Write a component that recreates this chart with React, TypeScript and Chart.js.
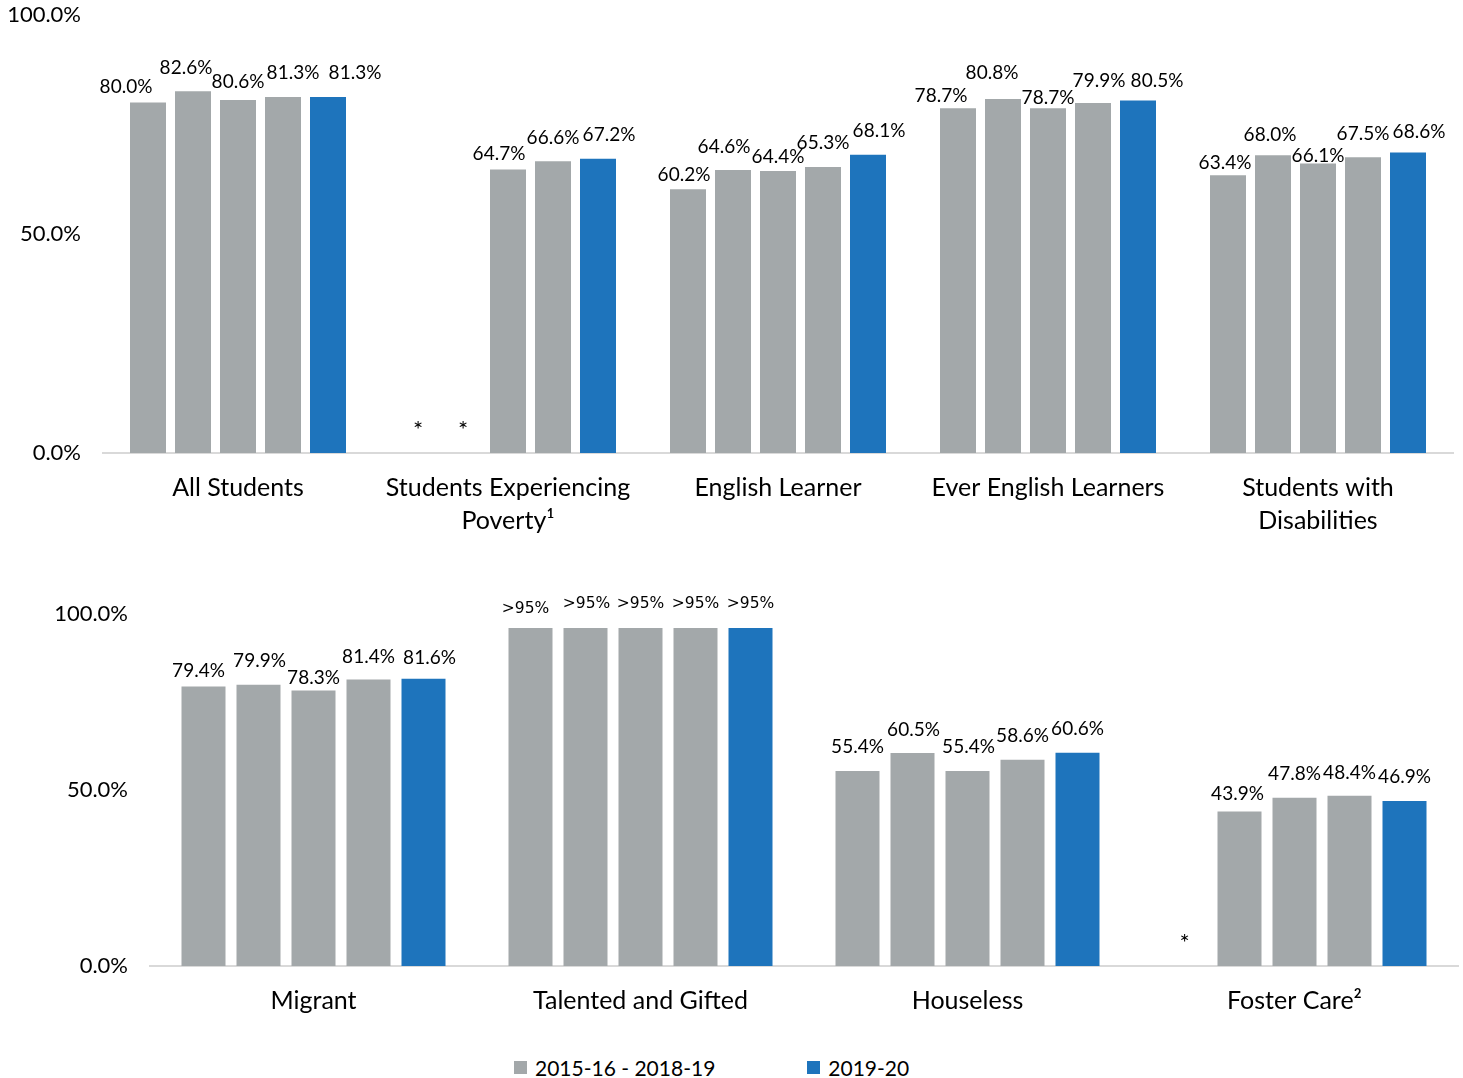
import React, { useEffect, useRef } from "react";
import { Chart, registerables } from "chart.js";

Chart.register(...registerables);

// School years shown as bars inside every student group
const YEARS = ["2015-16", "2016-17", "2017-18", "2018-19", "2019-20"];
const GRAY = "#A3A8AA";
const BLUE = "#1E74BC";

// Upper panel
const TOP_CATEGORIES = [
  "All Students",
  ["Students Experiencing", "Poverty¹"],
  "English Learner",
  "Ever English Learners",
  ["Students with", "Disabilities"],
];
const allStudents = [80.0, 82.6, 80.6, 81.3, 81.3];
const poverty = [null, null, 64.7, 66.6, 67.2];
const englishLearner = [60.2, 64.6, 64.4, 65.3, 68.1];
const everEnglishLearners = [78.7, 80.8, 78.7, 79.9, 80.5];
const disabilities = [63.4, 68.0, 66.1, 67.5, 68.6];

// Lower panel
const BOTTOM_CATEGORIES = ["Migrant", "Talented and Gifted", "Houseless", "Foster Care²"];
const migrant = [79.4, 79.9, 78.3, 81.4, 81.6];
const talentedGifted = [96, 96, 96, 96, 96];
const houseless = [55.4, 60.5, 55.4, 58.6, 60.6];
const fosterCare = [null, 43.9, 47.8, 48.4, 46.9];

// Groups whose rates are reported only as ">95%"
const TOP_CAPPED: number[] = [];
const BOTTOM_CAPPED = [1];

const Y_STEP = 50;
const LEGEND_ITEMS = [
  { text: "2015-16 - 2018-19", color: GRAY },
  { text: "2019-20", color: BLUE },
];

// Hand placement of value labels (dx, dy in px) so neighbours don't collide
const TOP_LABEL_NUDGE = [
  [[-22, 8], [-7, 1], [0, 6], [10, 0], [27, 0]],
  [[0, 0], [0, 0], [-9, 8], [0, 1], [11, 0]],
  [[-4, 10], [-9, 1], [0, 10], [0, 0], [11, 0]],
  [[-17, 12], [-11, -2], [0, 14], [6, 2], [19, 4]],
  [[-3, 12], [-3, 4], [0, 16], [0, 1], [11, 3]],
];
const BOTTOM_LABEL_NUDGE = [
  [[-5, 8], [1, 0], [0, 11], [0, 1], [6, 3]],
  [[-5, 5], [1, 0], [0, 0], [0, 0], [0, 0]],
  [[0, 0], [1, 1], [1, 0], [0, 0], [0, 0]],
  [[0, 0], [-2, 6], [0, 0], [0, 1], [0, 0]],
];

const valueLabels = {
  id: "valueLabels",
  afterDatasetsDraw(chart: any, _args: any, opts: any) {
    const { ctx } = chart;
    const yScale = chart.scales.y;
    const xScale = chart.scales.x;
    const y0 = yScale.getPixelForValue(0);
    const n = chart.data.datasets.length;
    chart.data.datasets.forEach((ds: any, di: number) => {
      const meta = chart.getDatasetMeta(di);
      meta.data.forEach((bar: any, ci: number) => {
        const v = ds.data[ci];
        let x = bar.x;
        if (!isFinite(x)) {
          const slot = (xScale.width / xScale.ticks.length) * opts.catPct / n;
          x = xScale.getPixelForValue(ci) + (di - (n - 1) / 2) * slot;
        }
        ctx.save();
        ctx.fillStyle = "#000";
        ctx.textAlign = "center";
        ctx.textBaseline = "middle";
        if (v == null) {
          // suppressed value
          ctx.font = "24px Lato";
          ctx.fillText("*", x, y0 - 23);
        } else {
          const capped = opts.capped.includes(ci);
          const [dx, dy] = opts.nudges[ci][di];
          ctx.font = capped ? "15.5px 'DejaVu Sans'" : "19px Lato";
          const text = capped ? ">95%" : Number(v).toFixed(1) + "%";
          ctx.fillText(text, x + dx, bar.y - 24 + dy);
        }
        ctx.restore();
      });
    });
  },
};

type PanelProps = {
  width: number;
  height: number;
  categories: (string | string[])[];
  groups: (number | null)[][];
  nudges: number[][][];
  capped: number[];
  pad: { top: number; right: number; left: number; bottom: number };
  yWidth: number;
  xHeight: number;
  catPct: number;
};

function BarPanel(p: PanelProps) {
  const ref = useRef<HTMLCanvasElement>(null);
  useEffect(() => {
    let chart: Chart | null = null;
    let cancelled = false;
    const build = () => {
      if (cancelled || !ref.current) return;
      const datasets = YEARS.map((year, yi) => ({
        label: year,
        data: p.groups.map((g) => g[yi]),
        backgroundColor: yi === YEARS.length - 1 ? BLUE : GRAY,
        borderWidth: 0,
        categoryPercentage: p.catPct,
        barPercentage: 0.8,
      }));
      chart = new Chart(ref.current, {
        type: "bar",
        data: { labels: p.categories as any, datasets: datasets as any },
        options: {
          responsive: false,
          animation: false,
          devicePixelRatio: 1,
          layout: { padding: p.pad },
          plugins: {
            legend: { display: false },
            tooltip: { enabled: false },
            valueLabels: { nudges: p.nudges, capped: p.capped, catPct: p.catPct },
          } as any,
          scales: {
            x: {
              grid: { display: false, drawTicks: false },
              border: { display: true, color: "#D9D9D9", width: 2 },
              ticks: {
                font: { family: "Lato", size: 25, lineHeight: 1.32 },
                color: "#000",
                padding: 18,
                maxRotation: 0,
                autoSkip: false,
              },
              afterFit: (s: any) => {
                s.height = p.xHeight;
              },
            },
            y: {
              min: 0,
              max: 100,
              grid: { display: false, drawTicks: false },
              border: { display: false },
              ticks: {
                stepSize: Y_STEP,
                font: { family: "Lato", size: 22 },
                color: "#000",
                padding: 22,
                callback: (v: any) => Number(v).toFixed(1) + "%",
              },
              afterFit: (s: any) => {
                s.width = p.yWidth;
                // plot edges come from layout padding alone
                s.paddingTop = 0;
                s.paddingBottom = 0;
              },
            },
          },
        },
        plugins: [valueLabels as any],
      });
    };
    Promise.all([
      document.fonts.load("19px Lato"),
      document.fonts.load("15px 'DejaVu Sans'"),
    ]).then(build, build);
    return () => {
      cancelled = true;
      if (chart) chart.destroy();
    };
  }, []);
  return (
    <canvas ref={ref} width={p.width} height={p.height} style={{ display: "block" }} />
  );
}

export default function App() {
  useEffect(() => {
    document.body.style.margin = "0";
  }, []);
  return (
    <div style={{ position: "relative", width: 1463, height: 1078, background: "#fff" }}>
      <div style={{ position: "absolute", left: 0, top: 0 }}>
        <BarPanel
          width={1463}
          height={560}
          categories={TOP_CATEGORIES}
          groups={[allStudents, poverty, englishLearner, everEnglishLearners, disabilities]}
          nudges={TOP_LABEL_NUDGE}
          capped={TOP_CAPPED}
          pad={{ top: 15, right: 10, left: 0, bottom: 0 }}
          yWidth={103}
          xHeight={107}
          catPct={225 / 270}
        />
      </div>
      <div style={{ position: "absolute", left: 0, top: 560 }}>
        <BarPanel
          width={1463}
          height={480}
          categories={BOTTOM_CATEGORIES}
          groups={[migrant, talentedGifted, houseless, fosterCare]}
          nudges={BOTTOM_LABEL_NUDGE}
          capped={BOTTOM_CAPPED}
          pad={{ top: 54, right: 5, left: 0, bottom: 0 }}
          yWidth={150}
          xHeight={74}
          catPct={275 / 327}
        />
      </div>
      <div
        style={{
          position: "absolute",
          left: 514,
          top: 1054,
          height: 26,
          display: "flex",
          alignItems: "center",
          gap: 92,
          fontFamily: "Lato",
          fontSize: 21,
          color: "#000",
        }}
      >
        {LEGEND_ITEMS.map((item) => (
          <div key={item.text} style={{ display: "flex", alignItems: "center" }}>
            <span
              style={{ display: "inline-block", width: 13, height: 13, background: item.color, marginRight: 8 }}
            />
            <span>{item.text}</span>
          </div>
        ))}
      </div>
    </div>
  );
}
